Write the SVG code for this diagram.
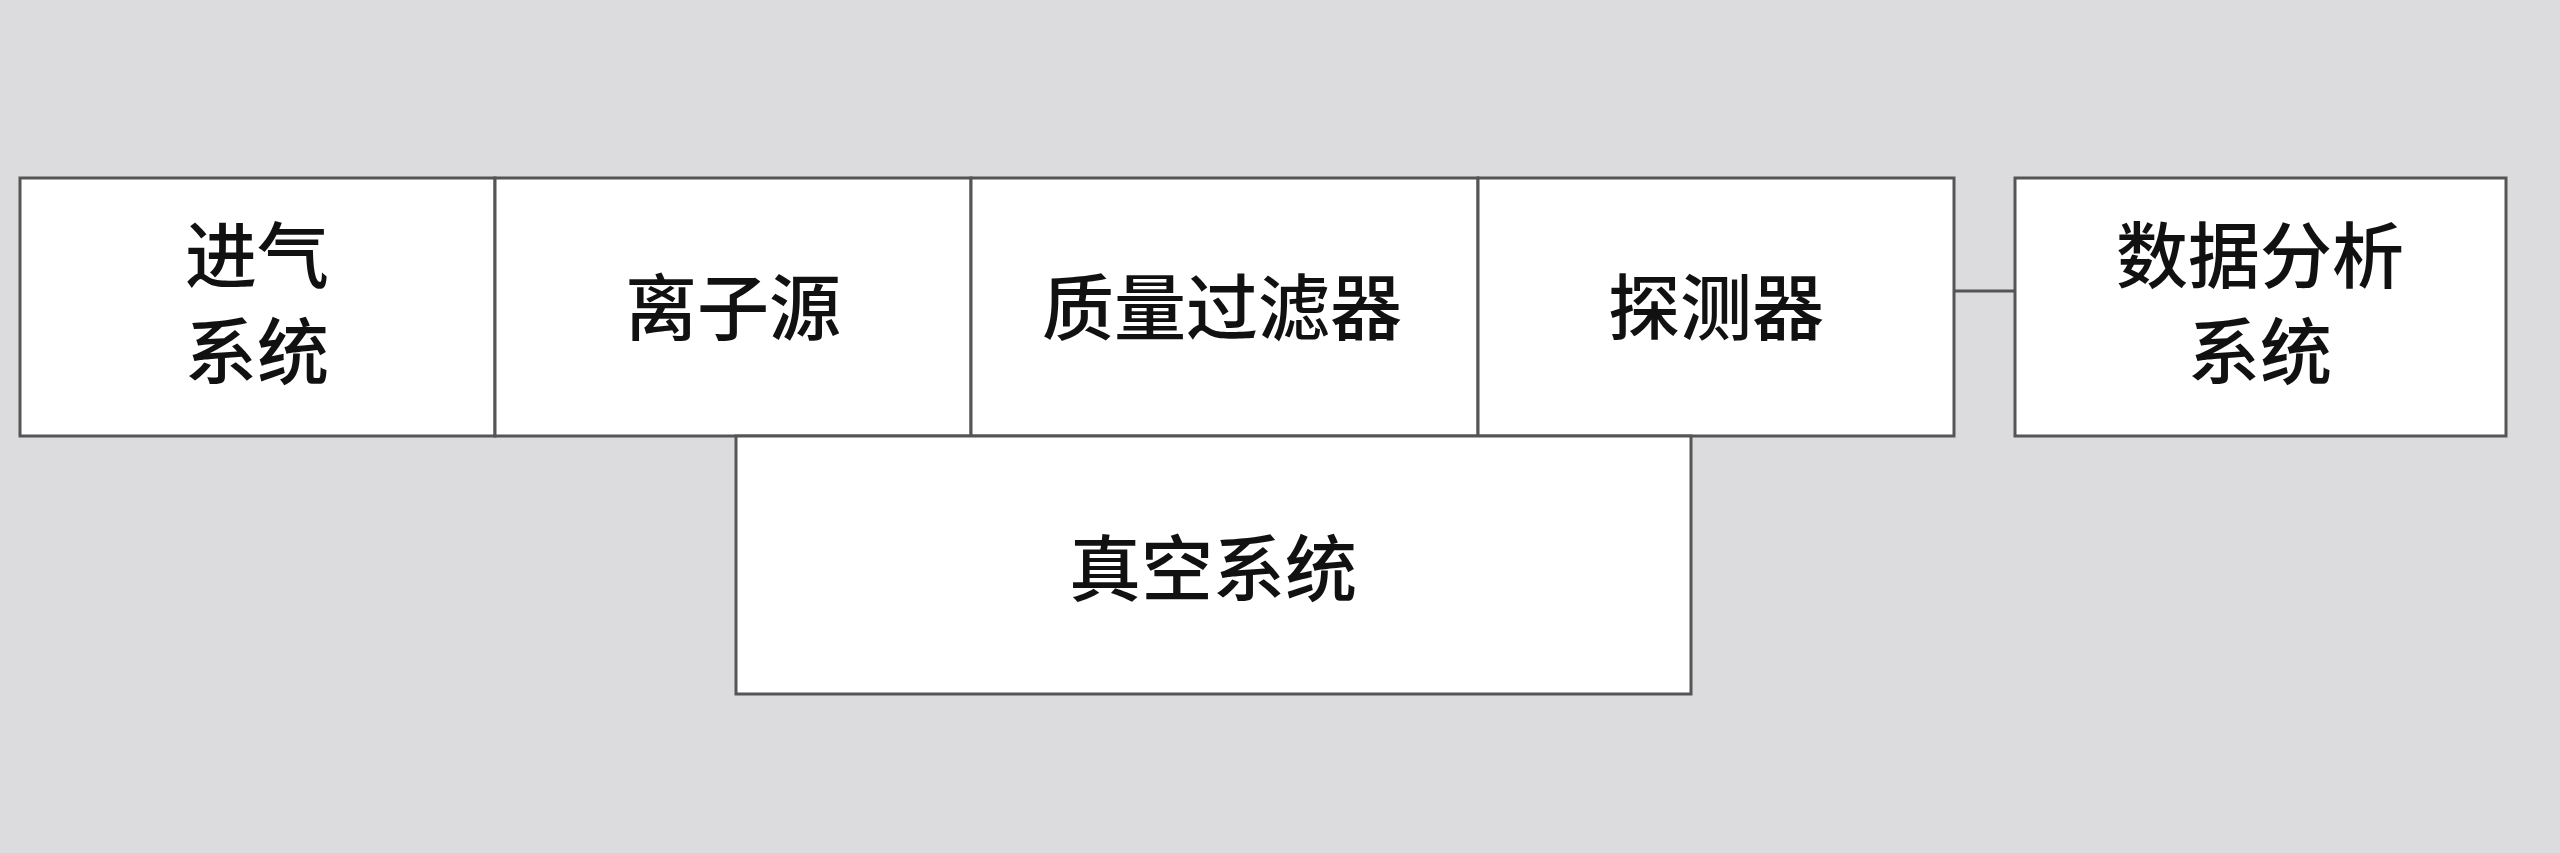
<svg xmlns="http://www.w3.org/2000/svg" width="2560" height="853" viewBox="0 0 2560 853">
<style>
.b{fill:#fff;stroke:#555;stroke-width:3}
.t{font-family:"Noto Sans CJK SC","Liberation Sans",sans-serif;font-size:72px;font-weight:500;fill:#111;text-anchor:middle;dominant-baseline:central}
</style>
<rect width="2560" height="853" fill="#dcdcde"/>
<g id="connectors"><line x1="1954" y1="291" x2="2015" y2="291" stroke="#555" stroke-width="3"/></g>
<g id="n1"><rect class="b" x="20" y="178" width="475" height="258"/><text class="t" x="257" y="250">进气</text><text class="t" x="257" y="346">系统</text></g>
<g id="n2"><rect class="b" x="495" y="178" width="476" height="258"/><text class="t" x="733" y="302">离子源</text></g>
<g id="n3"><rect class="b" x="971" y="178" width="507" height="258"/><text class="t" x="1222" y="302">质量过滤器</text></g>
<g id="n4"><rect class="b" x="1478" y="178" width="476" height="258"/><text class="t" x="1716" y="302">探测器</text></g>
<g id="n5"><rect class="b" x="2015" y="178" width="491" height="258"/><text class="t" x="2260" y="250">数据分析</text><text class="t" x="2260" y="346">系统</text></g>
<g id="n6"><rect class="b" x="736" y="436" width="955" height="258"/><text class="t" x="1213" y="563">真空系统</text></g>
</svg>
